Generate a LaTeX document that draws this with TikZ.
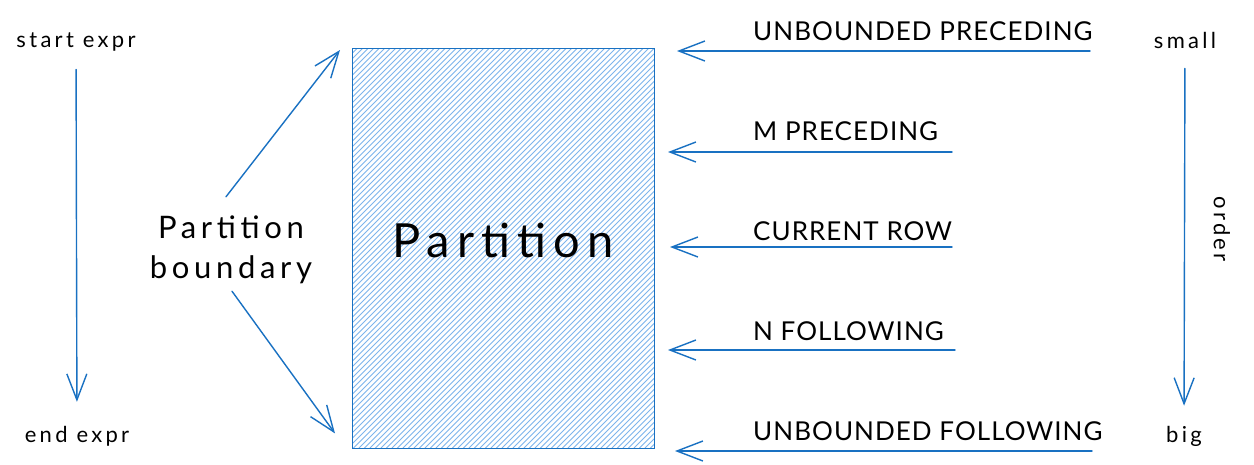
\documentclass[tikz,border=0pt]{standalone}
\usepackage{fontspec}
\setmainfont{Lato}
\newfontfamily\handlow[LetterSpace=15]{Lato}
\newfontfamily\handcaps[LetterSpace=4]{Lato}
\usetikzlibrary{arrows.meta,calc}
\definecolor{stroke}{RGB}{25,113,194}
\definecolor{hatchc}{RGB}{125,180,236}
\begin{document}
\begin{tikzpicture}[x=1pt,y=-1pt,
  conn/.style={draw=stroke,line width=1.4pt,line cap=round,
    -{Straight Barb[length=26pt,width=20pt,line width=1.4pt]}},
  caps/.style={font=\handcaps\fontsize{26}{28}\selectfont,anchor=base west,inner sep=0pt},
  lows/.style={font=\handlow\fontsize{22}{24}\selectfont,inner sep=0pt},
  big/.style={font=\handlow\fontsize{31}{40}\selectfont,inner sep=0pt,align=center}]
\useasboundingbox[fill=white] (0,0) rectangle (1254,464);
% hatch fill of the partition block
\begin{scope}
  \clip (352,48) rectangle (654,448);
  \foreach \i in {0,5.5,...,720} {
    \draw[hatchc, line width=0.8pt] (-48+\i,448) -- (352+\i,48);
  }
\end{scope}
\node[draw=stroke,line width=1.4pt,minimum width=302pt,minimum height=400pt,
  inner sep=0pt,anchor=north west] (part) at (352,48) {};
\node[font=\handlow\fontsize{47}{50}\selectfont,inner sep=0pt] (ptxt) at (503,240) {Partition};
% left: start/end expr
\node[lows] (sx) at (76,42) {start expr};
\node[lows] (ex) at (77,436) {end expr};
\draw[conn,shorten <=18pt,shorten >=24pt] (sx) -- (ex);
% partition boundary
\node[big] (pb) at (231,250) {Partition\\boundary};
\draw[conn] ($(pb.north)+(-5,-19)$) -- ($(part.north west)+(-12,2)$);
\draw[conn] ($(pb.south)+(1,7)$) -- ($(part.south west)+(-17,-16)$);
% right-hand labels
\node[caps] (l1) at (753,40) {UNBOUNDED PRECEDING};
\node[caps] (l2) at (753,140) {M PRECEDING};
\node[caps] (l3) at (753,240) {CURRENT ROW};
\node[caps] (l4) at (753,340) {N FOLLOWING};
\node[caps] (l5) at (753,440) {UNBOUNDED FOLLOWING};
\coordinate (t1) at (1090,51); \coordinate (h1) at (677,51);
\coordinate (t2) at (952,152); \coordinate (h2) at (668,152);
\coordinate (t3) at (952,247); \coordinate (h3) at (670,247);
\coordinate (t4) at (955,350); \coordinate (h4) at (668,350);
\coordinate (t5) at (1092,451); \coordinate (h5) at (675,451);
\foreach \k in {1,...,5} { \draw[conn] (t\k) -- (h\k); }
% order
\node[lows] (sm) at (1185,40) {small};
\node[lows] (bg) at (1184,436) {big};
\draw[conn,shorten <=20pt,shorten >=20pt] (sm) -- (bg);
\node[lows,rotate=-90] (ord) at (1222,229) {order};
\end{tikzpicture}
\end{document}
